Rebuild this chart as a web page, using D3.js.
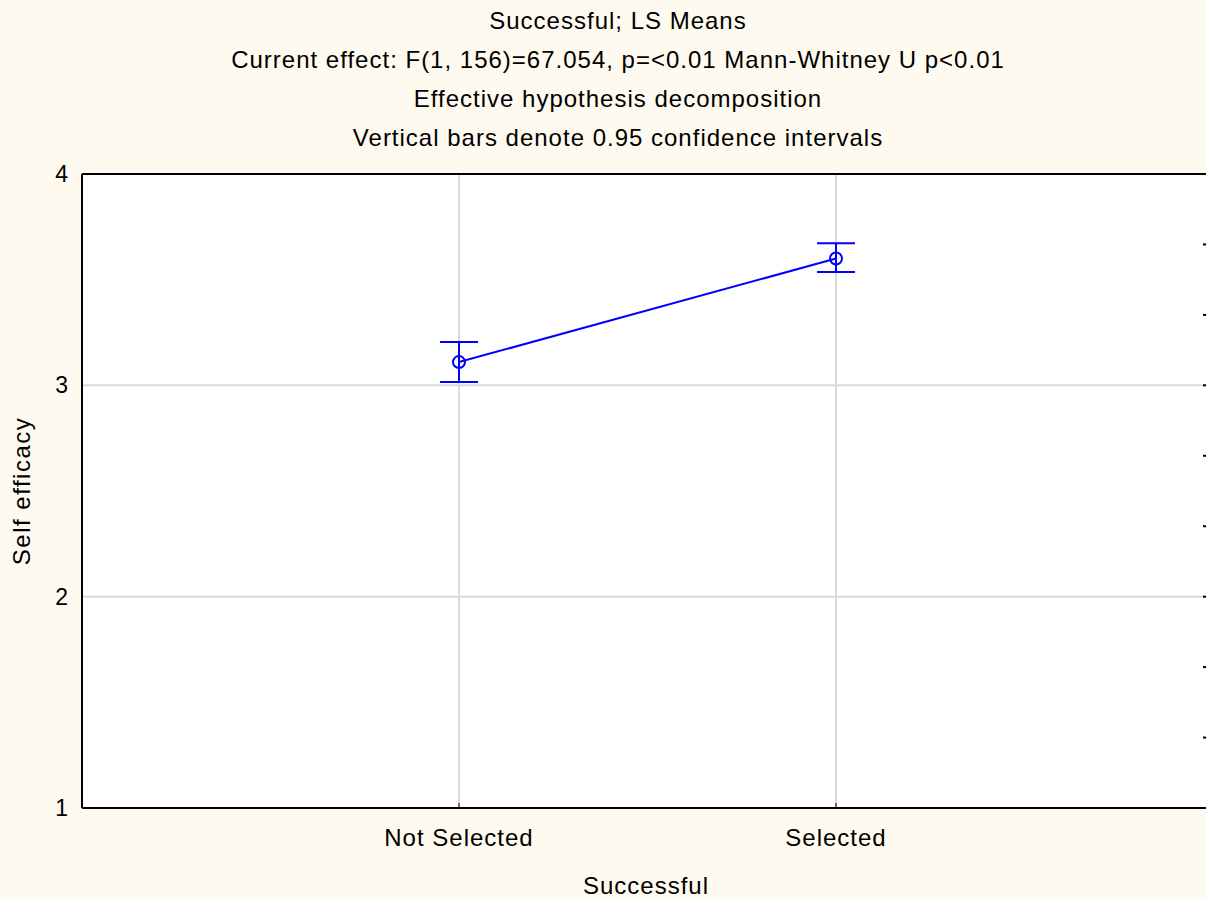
<!DOCTYPE html>
<html>
<head>
<meta charset="utf-8">
<script src="https://cdn.jsdelivr.net/npm/d3@7"></script>
<style>
  body { margin: 0; background: #fffaef; }
  svg { display: block; font-family: "Liberation Sans", Arial, sans-serif; }
</style>
</head>
<body>
<div id="chart"></div>
<script>
// Chart data
var categories = ["Not Selected", "Selected"];
var means = [3.110, 3.600];
var lowerCI = [3.016, 3.536];
var upperCI = [3.205, 3.672];
var yTicks = [1, 2, 3, 4];
var titleLines = [
  "Successful; LS Means",
  "Current effect: F(1, 156)=67.054, p=<0.01 Mann-Whitney U p<0.01",
  "Effective hypothesis decomposition",
  "Vertical bars denote 0.95 confidence intervals"
];

var svgWidth = 1206;
var svgHeight = 899;
var margin = { top: 174, right: -7, bottom: 91, left: 82 };
var chartWidth = svgWidth - margin.left - margin.right;
var chartHeight = svgHeight - margin.top - margin.bottom;

var svg = d3.select("#chart").append("svg")
  .attr("width", svgWidth)
  .attr("height", svgHeight);

svg.append("rect")
  .attr("width", svgWidth).attr("height", svgHeight)
  .attr("fill", "#fffaef");

// titles
svg.selectAll("text.title")
  .data(titleLines)
  .enter()
  .append("text")
  .attr("class", "title")
  .attr("x", 618)
  .attr("y", (d, i) => 29 + i * 39)
  .attr("text-anchor", "middle")
  .attr("font-size", 24)
  .attr("letter-spacing", 1)
  .attr("fill", "#000")
  .text(d => d);

var chartGroup = svg.append("g")
  .attr("transform", `translate(${margin.left}, ${margin.top})`);

// scales
var xScale = d3.scalePoint()
  .domain(categories)
  .range([0, chartWidth])
  .padding(1);

var yScale = d3.scaleLinear()
  .domain([1, 4])
  .range([chartHeight, 0]);

// plot background
chartGroup.append("rect")
  .attr("width", chartWidth)
  .attr("height", chartHeight)
  .attr("fill", "#ffffff");

// grid lines
chartGroup.selectAll("line.hgrid")
  .data([2, 3])
  .enter()
  .append("line")
  .attr("x1", 0).attr("x2", chartWidth)
  .attr("y1", d => yScale(d)).attr("y2", d => yScale(d))
  .attr("stroke", "#d9d9d9").attr("stroke-width", 2);

chartGroup.selectAll("line.vgrid")
  .data(categories)
  .enter()
  .append("line")
  .attr("x1", d => xScale(d)).attr("x2", d => xScale(d))
  .attr("y1", 0).attr("y2", chartHeight)
  .attr("stroke", "#d9d9d9").attr("stroke-width", 2);

// right side minor ticks
var rightTicks = d3.range(1, 4).flatMap(v => [v + 1 / 3, v + 2 / 3, v + 1]);
chartGroup.selectAll("rect.rtick")
  .data(rightTicks.filter(v => v < 4))
  .enter()
  .append("rect")
  .attr("x", chartWidth - 10)
  .attr("y", d => yScale(d) - 1)
  .attr("width", 3).attr("height", 2)
  .attr("fill", "#000");

// frame lines
chartGroup.append("line")
  .attr("x1", 0).attr("x2", chartWidth)
  .attr("y1", 0).attr("y2", 0)
  .attr("stroke", "#000").attr("stroke-width", 2);
chartGroup.append("line")
  .attr("x1", 0).attr("x2", chartWidth)
  .attr("y1", chartHeight).attr("y2", chartHeight)
  .attr("stroke", "#000").attr("stroke-width", 2);
chartGroup.append("line")
  .attr("x1", 0).attr("x2", 0)
  .attr("y1", 0).attr("y2", chartHeight)
  .attr("stroke", "#000").attr("stroke-width", 2);

// y tick labels
chartGroup.selectAll("text.ytick")
  .data(yTicks)
  .enter()
  .append("text")
  .attr("x", -14)
  .attr("y", d => yScale(d) + 8)
  .attr("text-anchor", "end")
  .attr("font-size", 23)
  .text(d => d);

// x tick labels
chartGroup.selectAll("text.xtick")
  .data(categories)
  .enter()
  .append("text")
  .attr("x", d => xScale(d))
  .attr("y", chartHeight + 38)
  .attr("text-anchor", "middle")
  .attr("font-size", 24)
  .attr("letter-spacing", 1)
  .text(d => d);

// small tick marks on x axis
chartGroup.selectAll("line.xtickmark")
  .data(categories)
  .enter()
  .append("line")
  .attr("x1", d => xScale(d)).attr("x2", d => xScale(d))
  .attr("y1", chartHeight - 5).attr("y2", chartHeight)
  .attr("stroke", "#000").attr("stroke-width", 1);

// axis titles
svg.append("text")
  .attr("x", 646)
  .attr("y", 894)
  .attr("text-anchor", "middle")
  .attr("font-size", 24)
  .attr("letter-spacing", 1)
  .text("Successful");

svg.append("text")
  .attr("transform", `translate(30, ${margin.top + chartHeight / 2}) rotate(-90)`)
  .attr("text-anchor", "middle")
  .attr("font-size", 24)
  .attr("letter-spacing", 1.5)
  .text("Self efficacy");

// series
var points = categories.map((c, i) => ({ cat: c, mean: means[i], lo: lowerCI[i], hi: upperCI[i] }));
var blue = "#0000ff";

chartGroup.append("path")
  .datum(points)
  .attr("fill", "none")
  .attr("stroke", blue)
  .attr("stroke-width", 2)
  .attr("d", d3.line().x(d => xScale(d.cat)).y(d => yScale(d.mean)));

var errGroup = chartGroup.selectAll("g.err")
  .data(points)
  .enter()
  .append("g");

errGroup.append("line")
  .attr("x1", d => xScale(d.cat)).attr("x2", d => xScale(d.cat))
  .attr("y1", d => yScale(d.lo)).attr("y2", d => yScale(d.hi))
  .attr("stroke", blue).attr("stroke-width", 2);

errGroup.selectAll("line.cap")
  .data(d => [{ cat: d.cat, v: d.lo }, { cat: d.cat, v: d.hi }])
  .enter()
  .append("line")
  .attr("x1", d => xScale(d.cat) - 19).attr("x2", d => xScale(d.cat) + 19)
  .attr("y1", d => yScale(d.v)).attr("y2", d => yScale(d.v))
  .attr("stroke", blue).attr("stroke-width", 2);

errGroup.append("circle")
  .attr("cx", d => xScale(d.cat))
  .attr("cy", d => yScale(d.mean))
  .attr("r", 6)
  .attr("fill", "none")
  .attr("stroke", blue)
  .attr("stroke-width", 2);
</script>
</body>
</html>
